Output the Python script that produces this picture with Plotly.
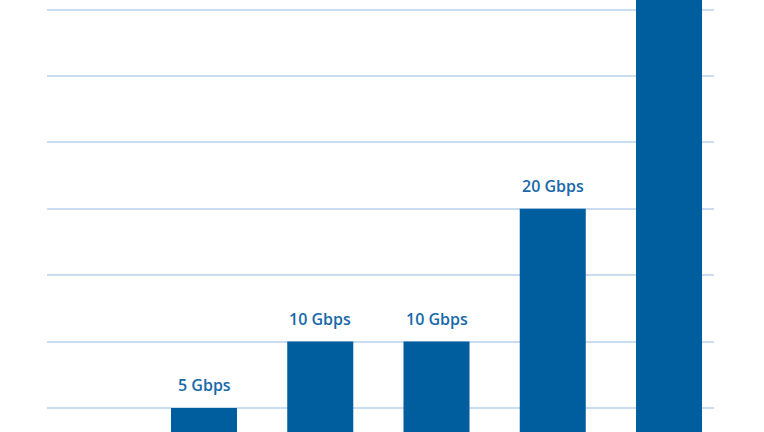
import plotly.graph_objects as go

categories = ["USB 2.0", "USB 3.2 Gen 1", "USB 3.2 Gen 2", "USB 3.1", "USB 3.2 Gen 2x2", "USB4"]
speeds = [0.48, 5, 10, 10, 20, 40]
labels = ["480 Mbps", "5 Gbps", "10 Gbps", "10 Gbps", "20 Gbps", "40 Gbps"]

bar_color = "#005e9e"
text_color = "#1769aa"
grid_color = "#cadcf0"

xs = list(range(len(categories)))

fig = go.Figure()
fig.add_trace(go.Bar(
    x=xs, y=speeds, width=0.568,
    marker=dict(color=bar_color, line=dict(width=0)),
    hoverinfo="skip",
))

for x, v, t in zip(xs, speeds, labels):
    fig.add_annotation(x=x, y=v, text=t, showarrow=False, yanchor="bottom",
                       yshift=10, font=dict(family="Open Sans", size=16, color=text_color,
                                            weight=600))

fig.update_layout(
    width=764, height=432,
    margin=dict(l=47, r=50, t=0, b=0),
    paper_bgcolor="white", plot_bgcolor="white",
    showlegend=False,
    xaxis=dict(range=[-0.3505, 5.387], showticklabels=False, showgrid=False,
               zeroline=False, showline=False, tickvals=xs, ticktext=categories),
    yaxis=dict(range=[3.19, 35.72], tickvals=[5, 10, 15, 20, 25, 30, 35],
               showticklabels=False, showgrid=True, gridcolor=grid_color,
               gridwidth=2, zeroline=False, showline=False),
)

fig.write_html("out.html", config={"displayModeBar": False},
               post_script="document.body.style.margin='0';")
